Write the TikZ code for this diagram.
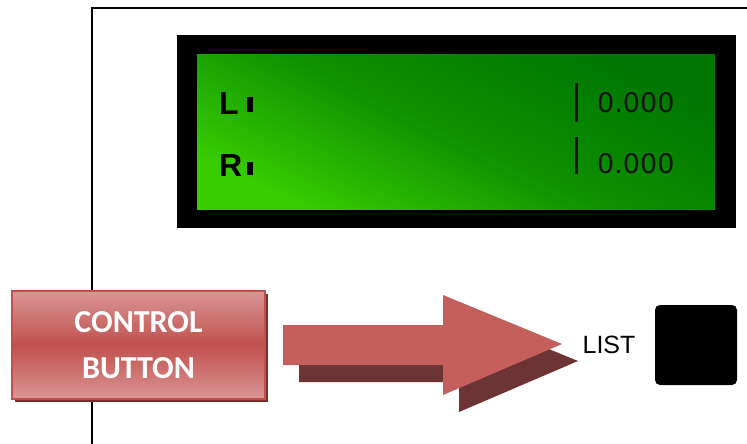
\documentclass[tikz,border=0pt]{standalone}
\usepackage{fontspec}
\setmainfont{Liberation Sans}
\newfontfamily\lcdfont{DejaVu Sans}
\newfontfamily\btnfont{Carlito}
\definecolor{lcddark}{HTML}{007600}
\definecolor{lcdmid}{HTML}{0E9000}
\definecolor{lcdbright}{HTML}{38CC00}
\definecolor{btnlight}{HTML}{DA9694}
\definecolor{btnmid}{HTML}{C0504D}
\definecolor{btnedge}{HTML}{C0504D}
\definecolor{btnshadow}{HTML}{7A2E2C}
\definecolor{arrowred}{HTML}{C45F5B}
\definecolor{arrowshadow}{HTML}{6C3434}
\definecolor{lcdink}{HTML}{151515}
\tikzset{
  frame/.style={line width=2.5pt, black},
  lcdlabel/.style={anchor=base west, inner sep=0pt, font=\bfseries\fontsize{32}{32}\selectfont},
  lcdvalue/.style={anchor=base west, inner sep=0pt, text=lcdink, font=\lcdfont\fontsize{27}{27}\selectfont},
  ctrlbtn/.style={rectangle, draw=btnedge, line width=1.5pt, minimum width=253pt, minimum height=108pt,
    top color=btnlight, bottom color=btnlight, middle color=btnmid, text=white, align=center,
    font=\btnfont\bfseries\fontsize{32}{46}\selectfont},
  listlabel/.style={inner sep=0pt, font=\fontsize{25}{25}\selectfont},
  keybox/.style={rectangle, fill=black, rounded corners=5pt, minimum width=82pt, minimum height=80pt, inner sep=0pt}
}
\begin{document}
\begin{tikzpicture}[x=1pt,y=-1pt]
\useasboundingbox (0,0) rectangle (747,444);
\fill[white] (0,0) rectangle (747,444);

% housing outline
\draw[frame] (92,444) -- (92,8) -- (747,8);

% display bezel and screen
\fill[black] (177,35) rectangle (736,228);
\shade[shading=axis, top color=lcddark, bottom color=lcdbright, middle color=lcdmid, shading angle=-26] (197,55) rectangle (715,209);

% channel labels and level marks
\node[lcdlabel] (lbl) at (219,114) {L};
\node[lcdlabel] (rbl) at (219,176) {R};
\fill[black] (247,97) rectangle (253,112);
\fill[black] (247,162) rectangle (253,175);

% readouts
\fill[lcdink] (575,83) rectangle (578,122);
\fill[lcdink] (575,137) rectangle (578,174);
\node[lcdvalue] (lval) at (597,112) {0.000};
\node[lcdvalue] (rval) at (597,173) {0.000};

% control button with drop shadow
\fill[btnshadow] (15,294) rectangle (268,402);
\node[ctrlbtn] (btn) at (138.5,345) {CONTROL\\BUTTON};

% block arrow with shadow
\fill[arrowshadow] (299,342) -- (459,342) -- (459,312) -- (578,361) -- (459,412) -- (459,382) -- (299,382) -- cycle;
\fill[arrowred] (283,325) -- (443,325) -- (443,295) -- (562,344) -- (443,395) -- (443,365) -- (283,365) -- cycle;

% list key
\node[listlabel] (list) at (609,345) {LIST};
\node[keybox] (key) at (696,345) {};
\end{tikzpicture}
\end{document}
